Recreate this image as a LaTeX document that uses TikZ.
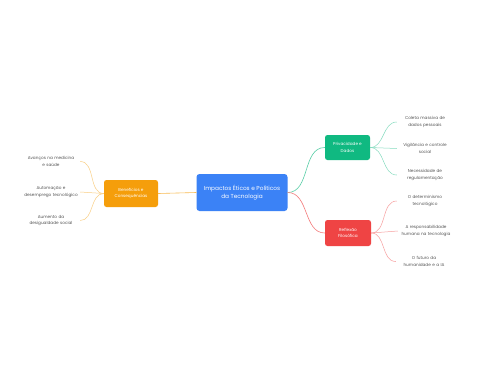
\documentclass[tikz,border=0pt]{standalone}
\usepackage{fontspec}
\setmainfont{Poppins}
\definecolor{cblue}{HTML}{3B82F6}
\definecolor{corange}{HTML}{F59E0B}
\definecolor{cgreen}{HTML}{10B981}
\definecolor{cred}{HTML}{EF4444}
\definecolor{leaftext}{HTML}{555555}
\begin{document}
\begin{tikzpicture}[x=1pt,y=-1pt,
  mainbox/.style={rounded corners=3pt, fill=cblue, text=white, font=\fontsize{5.8}{8}\selectfont, align=center, minimum width=91pt, minimum height=37pt, inner sep=0pt},
  topicbox/.style={rounded corners=2.5pt, text=white, font=\fontsize{4.2}{6.5}\selectfont, align=center, inner sep=0pt},
  leafL/.style={text=leaftext, font=\fontsize{4.2}{6.5}\selectfont, align=center, text width=58pt, inner sep=0pt},
  leafR/.style={text=leaftext, font=\fontsize{4.2}{6.5}\selectfont, align=center, text width=56pt, inner sep=0pt},
  link/.style={line width=0.6pt},
  sublink/.style={line width=0.5pt}]
\useasboundingbox (0,0) rectangle (480,384);
\fill[white] (0,0) rectangle (480,384);

\node[mainbox] (c) at (242,192.5) {Impactos Éticos e Políticos\\da Tecnologia};
\node[topicbox, fill=corange, minimum width=54pt, minimum height=27pt] (b) at (131,193.5) {Benefícios e\\Consequências};
\node[topicbox, fill=cgreen, minimum width=45pt, minimum height=25pt] (p) at (347.5,147.5) {Privacidade e\\Dados};
\node[topicbox, fill=cred, minimum width=46pt, minimum height=26pt] (r) at (348,233) {Reflexão\\Filosófica};

\node[leafL] (b1) at (51,161.5) {Avanços na medicina\\e saúde};
\node[leafL] (b2) at (51,192) {Automação e\\desemprego tecnológico};
\node[leafL] (b3) at (51,220.5) {Aumento da\\desigualdade social};

\node[leafR] (p1) at (425,122) {Coleta massiva de\\dados pessoais};
\node[leafR] (p2) at (425,148.5) {Vigilância e controle\\social};
\node[leafR] (p3) at (425,175) {Necessidade de\\regulamentação};

\node[leafR] (r1) at (425,201) {O determinismo\\tecnológico};
\node[leafR] (r2) at (426,231) {A responsabilidade\\humana na tecnologia};
\node[leafR] (r3) at (424,261.5) {O futuro da\\humanidade e a IA};

\draw[link, corange!70] (c.west) -- (b.east);
\draw[link, cgreen!70] (c.east) to[out=0,in=180] (p.west);
\draw[link, cred!70] (c.east) to[out=0,in=180] (r.west);

\draw[sublink, corange!50] (b.west) to[out=180,in=0] (b1.east);
\draw[sublink, corange!50] (b.west) -- (b2.east);
\draw[sublink, corange!50] (b.west) to[out=180,in=0] (b3.east);

\draw[sublink, cgreen!50] (p.east) to[out=0,in=180] (p1.west);
\draw[sublink, cgreen!50] (p.east) -- (p2.west);
\draw[sublink, cgreen!50] (p.east) to[out=0,in=180] (p3.west);

\draw[sublink, cred!50] (r.east) to[out=0,in=180] (r1.west);
\draw[sublink, cred!50] (r.east) -- (r2.west);
\draw[sublink, cred!50] (r.east) to[out=0,in=180] (r3.west);
\end{tikzpicture}
\end{document}
